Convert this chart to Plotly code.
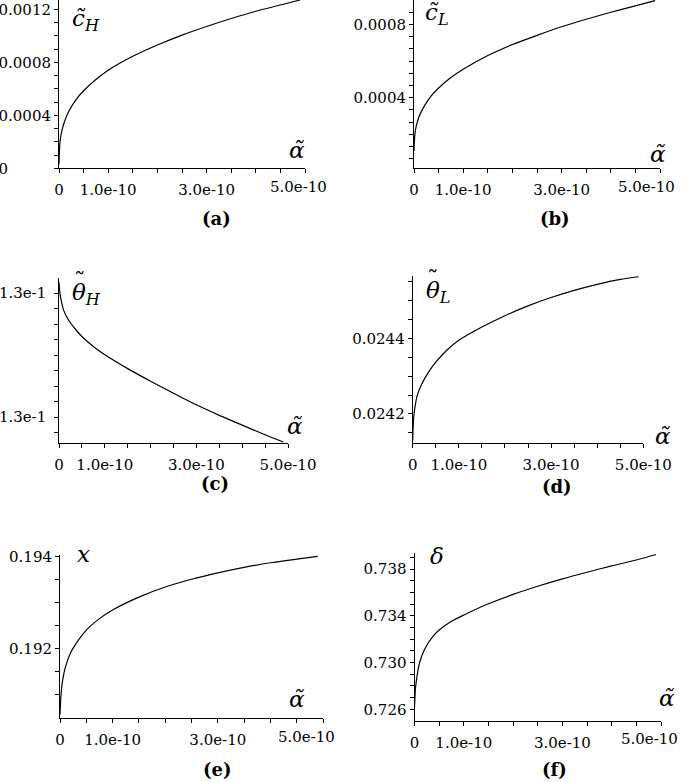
import plotly.graph_objects as go

W, H = 685, 782

# ---------------- data ----------------
alpha_e10 = [0, 0.02, 0.05, 0.1, 0.2, 0.35, 0.5, 0.75, 1.0, 1.5, 2.0, 2.5, 3.0, 3.5, 4.0, 4.5, 4.9]
alpha = [a * 1e-10 for a in alpha_e10]

c_H = [0.00003, 0.0002, 0.00027, 0.00034, 0.00043, 0.00052, 0.000585, 0.00067, 0.00074,
       0.000845, 0.00093, 0.001005, 0.00107, 0.00113, 0.001185, 0.001232, 0.00127]
c_L = [0.00011, 0.000205, 0.00025, 0.000295, 0.00035, 0.00041, 0.000453, 0.00051, 0.000555,
       0.00063, 0.00069, 0.00074, 0.000787, 0.000828, 0.000866, 0.000901, 0.00093]
theta_H = [0.130047, 0.130040, 0.130035, 0.130029, 0.130023, 0.130017, 0.130012, 0.1300056,
           0.1300002, 0.1299913, 0.1299832, 0.1299755, 0.129968, 0.1299612, 0.1299549,
           0.1299487, 0.129944]
theta_L = [0.02413, 0.02419, 0.024219, 0.02425, 0.02428, 0.024312, 0.024337, 0.02437, 0.024395,
           0.02443, 0.02446, 0.024486, 0.024508, 0.024527, 0.024543, 0.024556, 0.024563]
x_val = [0.19055, 0.191, 0.1913, 0.19158, 0.1919, 0.19218, 0.1924, 0.19265, 0.19284,
         0.19312, 0.19334, 0.19351, 0.19365, 0.19377, 0.19387, 0.19395, 0.19401]
delta = [0.72615, 0.7278, 0.7288, 0.72994, 0.73109, 0.73212, 0.73278, 0.73353, 0.73407,
         0.73503, 0.73583, 0.73653, 0.73716, 0.73773, 0.73827, 0.73878, 0.73925]

NB = "\u00a0"

# x axis ticks (same values in all panels)
x_tickvals = [0, 0.5e-10, 1.0e-10, 1.5e-10, 2.0e-10, 2.5e-10, 3.0e-10, 3.5e-10, 4.0e-10, 4.5e-10, 5.0e-10]
x_ticktext = ["0", "", "1.0e-10", "", "", "", "3.0e-10", "", "", "", "5.0e-10"]

cH_tickvals = [0, 0.0001, 0.0002, 0.0003, 0.0004, 0.0005, 0.0006, 0.0007, 0.0008, 0.0009, 0.001, 0.0011, 0.0012]
cH_ticktext = ["0" + NB * 9, "", "", "", "0.0004", "", "", "", "0.0008", "", "", "", "0.0012"]

cL_tickvals = [0.0000667, 0.0001333, 0.0002, 0.0002667, 0.0003333, 0.0004, 0.0004667, 0.0005333,
               0.0006, 0.0006667, 0.0007333, 0.0008, 0.0008667]
cL_ticktext = ["", "", "", "", "", "0.0004", "", "", "", "", "", "0.0008", ""]

tH_tickvals = [0.12995, 0.12996, 0.12997, 0.12998, 0.12999, 0.13000, 0.13001, 0.13002, 0.13003, 0.13004]
tH_ticktext = ["", "1.3e-1" + NB, "", "", "", "", "", "", "", "1.3e-1" + NB]

tL_tickvals = [0.02415, 0.0242, 0.02425, 0.0243, 0.02435, 0.0244, 0.02445, 0.0245, 0.02455]
tL_ticktext = ["", "0.0242", "", "", "", "0.0244", "", "", ""]

xv_tickvals = [0.191, 0.1915, 0.192, 0.1925, 0.193, 0.1935, 0.194]
xv_ticktext = ["", "", "0.192", "", "", "", "0.194"]

d_tickvals = [0.726, 0.727, 0.728, 0.729, 0.730, 0.731, 0.732, 0.733, 0.734, 0.735, 0.736, 0.737, 0.738, 0.739]
d_ticktext = ["0.726", "", "", "", "0.730", "", "", "", "0.734", "", "", "", "0.738", ""]

# ---------------- layout of the six panels (pixel geometry) ----------------
# lastshift: leftward nudge (px) of the last x label, as in the reference (0 = normal tick label)
panels = [
    dict(y=c_H, yr=[0, 0.00127], ytv=cH_tickvals, ytt=cH_ticktext, lastshift=7,
         xd=[59, 305], yd=[0, 168.3],
         sym="<i>c\u0303</i><sub><i>H</i></sub>", symxy=(86, 20), tilde=None, axy=(297, 150),
         lab="(a)", labxy=(216, 218)),
    dict(y=c_L, yr=[0.000015, 0.000933], ytv=cL_tickvals, ytt=cL_ticktext, lastshift=14,
         xd=[414, 660], yd=[0, 168.3],
         sym="<i>c\u0303</i><sub><i>L</i></sub>", symxy=(437, 14), tilde=None, axy=(658, 154),
         lab="(b)", labxy=(555, 218)),
    dict(y=theta_H, yr=[0.1299432, 0.1300497], ytv=tH_tickvals, ytt=tH_ticktext, lastshift=0,
         xd=[59, 288], yd=[278, 443.3],
         sym="<i>\u03b8</i><sub><i>H</i></sub>", symxy=(87, 294), tilde=(80, 281), axy=(295, 426),
         lab="(c)", labxy=(215, 483)),
    dict(y=theta_L, yr=[0.024124, 0.024565], ytv=tL_tickvals, ytt=tL_ticktext, lastshift=0,
         xd=[412.7, 643.3], yd=[276, 442.7],
         sym="<i>\u03b8</i><sub><i>L</i></sub>", symxy=(439, 292), tilde=(433, 279), axy=(663, 436),
         lab="(d)", labxy=(557, 486)),
    dict(y=x_val, yr=[0.190473, 0.19404], ytv=xv_tickvals, ytt=xv_ticktext, lastshift=17,
         xd=[60, 323], yd=[555, 718.3],
         sym="<i>x</i>", symxy=(83, 554), tilde=None, axy=(297, 699),
         lab="(e)", labxy=(217, 769)),
    dict(y=delta, yr=[0.72502, 0.73935], ytv=d_tickvals, ytt=d_ticktext, lastshift=12,
         xd=[414.5, 661], yd=[553.3, 720.7],
         sym="<i>\u03b4</i>", symxy=(437, 556), tilde=None, axy=(667, 698),
         lab="(f)", labxy=(554, 769)),
]

TICKFONT = dict(family="DejaVu Serif", size=15, color="black")
SYMFONT = dict(family="DejaVu Serif", size=23, color="black")
LABFONT = dict(family="DejaVu Serif", size=18, color="black")

fig = go.Figure()
annotations = []
for i, p in enumerate(panels, start=1):
    suf = "" if i == 1 else str(i)
    xa, ya = "x" + suf, "y" + suf
    fig.add_trace(go.Scatter(
        x=alpha, y=p["y"], mode="lines",
        line=dict(color="black", width=1.2, shape="spline", smoothing=0.8),
        xaxis=xa, yaxis=ya, showlegend=False, hoverinfo="skip"))
    common = dict(showline=True, linecolor="black", linewidth=1, ticks="outside",
                  ticklen=4, tickwidth=1, tickcolor="black", showgrid=False,
                  zeroline=False, tickfont=TICKFONT, tickmode="array", automargin=False,
                  ticklabeloverflow="allow")
    ttext = list(x_ticktext)
    if p["lastshift"]:
        ttext[-1] = ""
        annotations.append(dict(text=x_ticktext[-1], x=x_tickvals[-1], xref=xa,
                                y=1 - (p["yd"][1] + 18.5) / H, yref="paper",
                                xshift=-p["lastshift"], showarrow=False,
                                xanchor="center", yanchor="middle", font=TICKFONT))
    fig.layout["xaxis" + suf] = dict(
        domain=[p["xd"][0] / W, p["xd"][1] / W], anchor=ya, range=[0, 5e-10],
        tickvals=x_tickvals, ticktext=ttext, ticklabelstandoff=4, **common)
    fig.layout["yaxis" + suf] = dict(
        domain=[1 - p["yd"][1] / H, 1 - p["yd"][0] / H], anchor=xa, range=p["yr"],
        tickvals=p["ytv"], ticktext=p["ytt"], ticklabelstandoff=0, **common)
    annotations.append(dict(text=p["sym"], x=p["symxy"][0] / W, y=1 - p["symxy"][1] / H,
                            xref="paper", yref="paper", showarrow=False,
                            xanchor="center", yanchor="middle", font=SYMFONT))
    if p["tilde"] is not None:
        annotations.append(dict(text="\u02dc", x=p["tilde"][0] / W, y=1 - p["tilde"][1] / H,
                                xref="paper", yref="paper", showarrow=False,
                                xanchor="center", yanchor="middle", font=SYMFONT))
    annotations.append(dict(text="<i>\u03b1\u0303</i>", x=p["axy"][0] / W, y=1 - p["axy"][1] / H,
                            xref="paper", yref="paper", showarrow=False,
                            xanchor="center", yanchor="middle", font=SYMFONT))
    annotations.append(dict(text="<b>" + p["lab"] + "</b>", x=p["labxy"][0] / W,
                            y=1 - p["labxy"][1] / H, xref="paper", yref="paper",
                            showarrow=False, xanchor="center", yanchor="middle",
                            font=LABFONT))

fig.update_layout(width=W, height=H, margin=dict(l=0, r=0, t=0, b=0, autoexpand=False),
                  paper_bgcolor="white", plot_bgcolor="white",
                  annotations=annotations, showlegend=False)

fig.write_html("out.html", config=dict(displayModeBar=False),
               post_script="document.documentElement.style.margin='0';"
                           "document.body.style.margin='0';"
                           "document.body.style.overflow='hidden';")
